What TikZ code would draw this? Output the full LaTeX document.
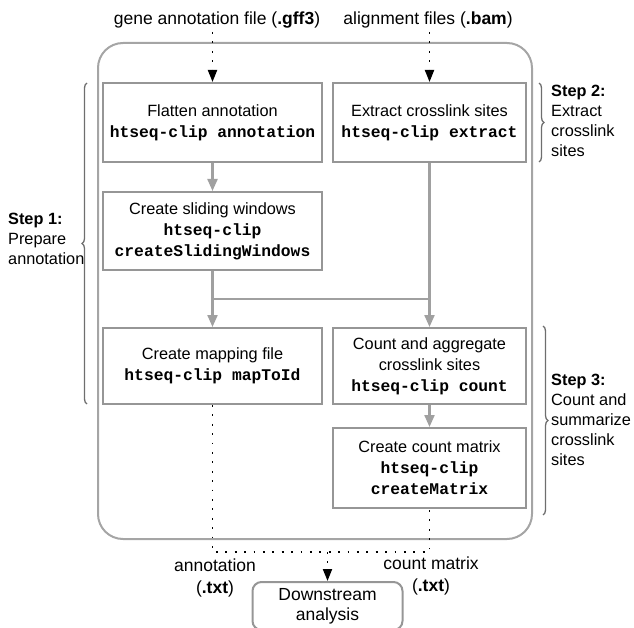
\documentclass[tikz,border=0pt]{standalone}
\usepackage{fontspec}
\setmainfont{Liberation Sans}
\setmonofont{Liberation Mono}
\usetikzlibrary{arrows.meta,decorations.pathreplacing}
\definecolor{boxgray}{RGB}{150,150,150}
\definecolor{outergray}{RGB}{165,165,165}
\definecolor{linkgray}{RGB}{160,160,160}
\definecolor{bracegray}{RGB}{110,110,110}
\newcommand{\cmd}[1]{{\ttfamily\bfseries #1}}
\begin{document}
\begin{tikzpicture}[x=1pt,y=-1pt,
  procbox/.style={draw=boxgray, line width=2pt, rectangle, align=center,
    inner sep=0pt, font=\fontsize{16.3}{21}\selectfont},
  outerbox/.style={draw=outergray, line width=2pt, rectangle, rounded corners=25pt, inner sep=0pt},
  endbox/.style={draw=boxgray, line width=2pt, rectangle, rounded corners=9pt, align=center,
    inner sep=0pt, font=\fontsize{17.5}{20}\selectfont},
  iolabel/.style={align=center, inner sep=1pt, font=\fontsize{17.5}{22}\selectfont},
  steplabel/.style={align=left, anchor=west, inner sep=0pt, font=\fontsize{16.3}{20}\selectfont},
  flow/.style={draw=linkgray, line width=2.2pt},
  flowarrow/.style={flow, -{Triangle[width=10pt,length=12pt]}},
  dotline/.style={draw=black, line width=1.8pt, dash pattern=on 1.8pt off 7.6pt},
  dotarrow/.style={dotline, -{Triangle[width=9pt,length=12pt]}},
  stepbrace/.style={draw=bracegray, line width=1.3pt,
    decorate, decoration={brace, amplitude=5pt}}
]
\useasboundingbox (0,0) rectangle (634,628);

% outer frame
\node[outerbox, minimum width=434pt, minimum height=496pt] (outer) at (315,291) {};

% process boxes
\node[procbox, minimum width=219pt, minimum height=79pt] (b1) at (212.5,122.5)
  {Flatten annotation\\\cmd{htseq-clip annotation}};
\node[procbox, minimum width=193pt, minimum height=79pt] (b2) at (429.5,122.5)
  {Extract crosslink sites\\\cmd{htseq-clip extract}};
\node[procbox, minimum width=219pt, minimum height=78pt] (b3) at (212.5,231)
  {Create sliding windows\\\cmd{htseq-clip}\\\cmd{createSlidingWindows}};
\node[procbox, minimum width=219pt, minimum height=76pt] (b4) at (212.5,366)
  {Create mapping file\\\cmd{htseq-clip mapToId}};
\node[procbox, minimum width=193pt, minimum height=76pt] (b5) at (429.5,366)
  {Count and aggregate\\crosslink sites\\\cmd{htseq-clip count}};
\node[procbox, minimum width=193pt, minimum height=80pt] (b6) at (429.5,468)
  {Create count matrix\\\cmd{htseq-clip}\\\cmd{createMatrix}};

% downstream
\node[endbox, minimum width=150pt, minimum height=48pt] (ds) at (327.5,606)
  {Downstream\\analysis};

% input / output labels
\node[iolabel] (lgff) at (217,20) {gene annotation file (\textbf{.gff3})};
\node[iolabel] (lbam) at (428,20) {alignment files (\textbf{.bam})};
\node[iolabel] (lann) at (215,578) {annotation\\(\textbf{.txt})};
\node[iolabel] (lcnt) at (431,575.5) {count matrix\\(\textbf{.txt})};

% input arrows
\coordinate (tl) at (b1.north |- 0,32);
\coordinate (tr) at (b2.north |- 0,32);
\draw[dotarrow] (tl) -- (b1.north);
\draw[dotarrow] (tr) -- (b2.north);

% process flow
\coordinate (hl) at (b3.south |- 0,299);
\coordinate (hr) at (b2.south |- 0,299);
\draw[flowarrow] (b1.south) -- (b3.north);
\draw[flowarrow] (b3.south) -- (b4.north);
\draw[flowarrow] (b2.south) -- (b5.north);
\draw[flow] (hl) -- (hr);
\draw[flowarrow] (b5.south) -- (b6.north);

% output dotted lines
\coordinate (jl) at (b4.south |- 0,552);
\coordinate (jr) at (b6.south |- 0,552);
\coordinate (jm) at (ds.north |- 0,552);
\draw[dotline] (b4.south) -- (jl) -- (jr) -- (b6.south);
\draw[dotarrow] (jm) -- (ds.north);

% step braces
\coordinate (s1a) at (87,404);
\coordinate (s1b) at (87,83);
\coordinate (s2a) at (539,83);
\coordinate (s2b) at (539,162);
\coordinate (s3a) at (543,326);
\coordinate (s3b) at (543,515);
\draw[stepbrace] (s1a) -- (s1b);
\draw[stepbrace] (s2a) -- (s2b);
\draw[stepbrace] (s3a) -- (s3b);

\node[steplabel] (st1) at (8,239) {\textbf{Step 1:}\\Prepare\\annotation};
\node[steplabel] (st2) at (551,120.5) {\textbf{Step 2:}\\Extract\\crosslink\\sites};
\node[steplabel] (st3) at (551,419.5) {\textbf{Step 3:}\\Count and\\summarize\\crosslink\\sites};
\end{tikzpicture}
\end{document}
